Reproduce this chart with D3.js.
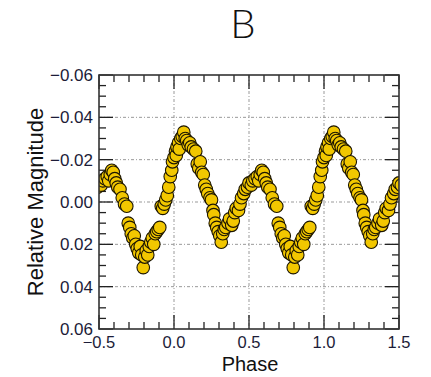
<!DOCTYPE html>
<html>
<head>
<meta charset="utf-8">
<script src="https://cdn.jsdelivr.net/npm/d3@7"></script>
<style>
  body { margin: 0; background: #fff; }
  text { font-family: Arial, "Liberation Sans", sans-serif; }
</style>
</head>
<body>
<svg id="chart" width="431" height="377"></svg>
<script>
// one cycle of the folded light curve, phase 0..1
const phase = [
  0.000, 0.010, 0.015, 0.020, 0.030, 0.035, 0.045, 0.055, 0.065, 0.075,
  0.085, 0.095, 0.105, 0.115, 0.130, 0.145, 0.155, 0.165, 0.175, 0.185,
  0.195, 0.205, 0.215, 0.225, 0.240, 0.250, 0.260, 0.265, 0.275, 0.285,
  0.295, 0.305, 0.315, 0.325, 0.335, 0.345, 0.360, 0.370, 0.385, 0.395,
  0.405, 0.415, 0.430, 0.440, 0.450, 0.465, 0.475, 0.490, 0.500, 0.515,
  0.525, 0.540, 0.555, 0.565, 0.575, 0.585, 0.595, 0.605, 0.615, 0.625,
  0.640, 0.655, 0.670, 0.685, 0.695, 0.705, 0.715, 0.725, 0.735, 0.745,
  0.755, 0.765, 0.775, 0.785, 0.795, 0.805, 0.815, 0.825, 0.835, 0.845,
  0.855, 0.865, 0.875, 0.885, 0.895, 0.905, 0.915, 0.925, 0.935, 0.945,
  0.955, 0.965, 0.975, 0.985, 0.990
];
const mag = [
  -0.021, -0.024, -0.022, -0.026, -0.028, -0.025, -0.030, -0.031, -0.033, -0.030,
  -0.029, -0.027, -0.028, -0.026, -0.025, -0.024, -0.018, -0.016, -0.019, -0.014,
  -0.013, -0.008, -0.006, -0.004, -0.002, -0.001, 0.004, 0.006, 0.010, 0.012,
  0.014, 0.016, 0.019, 0.015, 0.013, 0.012, 0.010, 0.008, 0.011, 0.009,
  0.005, 0.003, 0.004, 0.001, -0.002, -0.004, -0.006, -0.007, -0.009, -0.008,
  -0.010, -0.011, -0.012, -0.010, -0.013, -0.015, -0.014, -0.011, -0.009, -0.007,
  -0.006, -0.002, 0.001, 0.002, 0.010, 0.012, 0.015, 0.017, 0.016, 0.020,
  0.022, 0.024, 0.021, 0.025, 0.031, 0.026, 0.023, 0.025, 0.021, 0.019,
  0.017, 0.020, 0.015, 0.014, 0.013, 0.012, 0.002, 0.003, 0.001, -0.001,
  -0.003, -0.007, -0.012, -0.015, -0.019
];
const xTicks = [-0.5, 0.0, 0.5, 1.0, 1.5];
const yTicks = [-0.06, -0.04, -0.02, 0.00, 0.02, 0.04, 0.06];

const svg = d3.select("#chart");
const mLeft = 99, mRight = 399, mTop = 75, mBottom = 329;

const x = d3.scaleLinear().domain([-0.5, 1.5]).range([mLeft, mRight]);
const y = d3.scaleLinear().domain([-0.06, 0.06]).range([mTop, mBottom]);

// folded plot shows each point at phase-1, phase, phase+1
let points = [];
[-1, 0, 1].forEach(k => {
  phase.forEach((p, i) => {
    let ph = p + k;
    if (ph >= -0.52 && ph <= 1.52) points.push({ p: ph, m: mag[i] });
  });
});

svg.append("text")
  .attr("x", 243).attr("y", 38)
  .attr("text-anchor", "middle")
  .style("font-family", "Lato, 'Open Sans', sans-serif")
  .style("font-weight", 300)
  .style("font-size", "40px")
  .attr("fill", "#111")
  .text("B");

// grid
const grid = svg.append("g").attr("stroke", "#999").attr("stroke-width", 1)
  .attr("stroke-dasharray", "3,2,1,2");
xTicks.slice(1, -1).forEach(t => {
  grid.append("line").attr("x1", x(t)).attr("x2", x(t)).attr("y1", mTop).attr("y2", mBottom);
});
yTicks.slice(1, -1).forEach(t => {
  grid.append("line").attr("x1", mLeft).attr("x2", mRight).attr("y1", y(t)).attr("y2", y(t));
});

// inward ticks on all four sides
const minorX = d3.range(-5, 16).map(d => d / 10);
const minorY = d3.range(-12, 13).map(d => d / 200);
const tk = svg.append("g").attr("stroke", "#222").attr("stroke-width", 1.3);
minorX.forEach(t => {
  let len = Math.abs(t * 2 - Math.round(t * 2)) < 1e-6 ? 14 : 7;
  tk.append("line").attr("x1", x(t)).attr("x2", x(t)).attr("y1", mBottom).attr("y2", mBottom - len);
  tk.append("line").attr("x1", x(t)).attr("x2", x(t)).attr("y1", mTop).attr("y2", mTop + len);
});
minorY.forEach(t => {
  let len = Math.abs(t * 50 - Math.round(t * 50)) < 1e-6 ? 14 : 7;
  tk.append("line").attr("y1", y(t)).attr("y2", y(t)).attr("x1", mLeft).attr("x2", mLeft + len);
  tk.append("line").attr("y1", y(t)).attr("y2", y(t)).attr("x1", mRight).attr("x2", mRight - len);
});

// points
svg.append("clipPath").attr("id", "clip")
  .append("rect").attr("x", mLeft).attr("y", mTop)
  .attr("width", mRight - mLeft).attr("height", mBottom - mTop);

svg.append("g").attr("clip-path", "url(#clip)")
  .selectAll("circle")
  .data(points)
  .enter()
  .append("circle")
  .attr("cx", d => x(d.p))
  .attr("cy", d => y(d.m))
  .attr("r", 6.3)
  .attr("fill", "#f2c700")
  .attr("stroke", "#1a1400")
  .attr("stroke-width", 1.1);

// frame
svg.append("rect")
  .attr("x", mLeft).attr("y", mTop)
  .attr("width", mRight - mLeft).attr("height", mBottom - mTop)
  .attr("fill", "none").attr("stroke", "#333").attr("stroke-width", 1.6);

// tick labels
const fmtY = d => d3.format(".2f")(d).replace("-", "\u2212");
svg.append("g").selectAll("text")
  .data(yTicks).enter().append("text")
  .attr("x", 93).attr("y", d => y(d))
  .attr("dy", "0.36em")
  .attr("text-anchor", "end")
  .style("font-size", "17px")
  .attr("fill", "#1c1c38")
  .text(fmtY);

svg.append("g").selectAll("text")
  .data(xTicks).enter().append("text")
  .attr("x", d => x(d)).attr("y", 348)
  .attr("text-anchor", "middle")
  .style("font-size", "16.5px")
  .attr("fill", "#1c1c38")
  .text(d => d3.format(".1f")(d).replace("-", "\u2212"));

svg.append("text")
  .attr("x", 250).attr("y", 371)
  .attr("text-anchor", "middle")
  .style("font-size", "20px")
  .attr("fill", "#111")
  .text("Phase");

svg.append("text")
  .attr("transform", "translate(43,202) rotate(-90)")
  .attr("text-anchor", "middle")
  .style("font-size", "22px")
  .attr("fill", "#111")
  .text("Relative Magnitude");
</script>
</body>
</html>
